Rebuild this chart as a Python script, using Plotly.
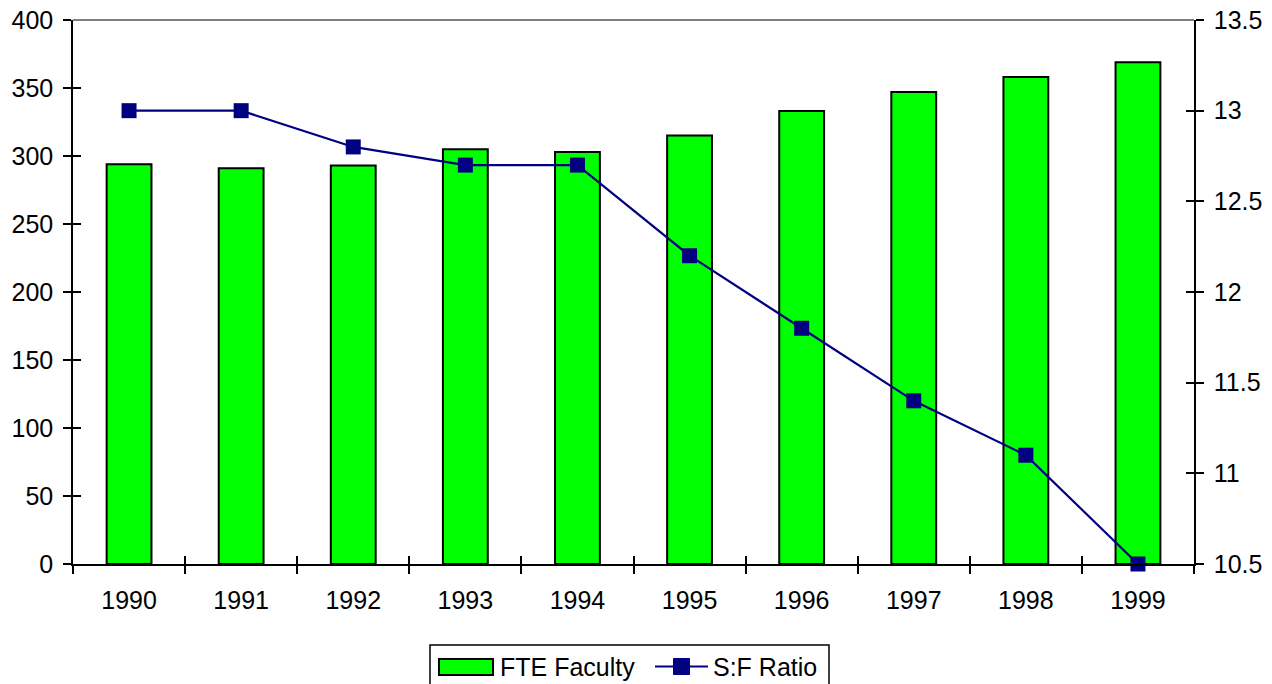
import plotly.graph_objects as go

years = ["1990", "1991", "1992", "1993", "1994", "1995", "1996", "1997", "1998", "1999"]
fte_faculty = [294, 291, 293, 305, 303, 315, 333, 347, 358, 369]
sf_ratio = [13.0, 13.0, 12.8, 12.7, 12.7, 12.2, 11.8, 11.4, 11.1, 10.5]
left_ticks = [0, 50, 100, 150, 200, 250, 300, 350, 400]
right_ticks = [10.5, 11, 11.5, 12, 12.5, 13, 13.5]
right_tick_text = ["10.5", "11", "11.5", "12", "12.5", "13", "13.5"]
series_names = ["FTE Faculty", "S:F Ratio"]

FONT = "Liberation Sans, Arial, sans-serif"
FS = 25
W, H = 1272, 684
L, R, T, B = 73, 78, 20, 120
PW = W - L - R
PH = H - T - B


def px(x):
    return (x - L) / PW


def py(y):
    return (H - B - y) / PH


BAR_COLOR = "#00FF00"
LINE_COLOR = "#000080"

fig = go.Figure()
fig.add_trace(go.Bar(
    x=years, y=fte_faculty, name=series_names[0],
    marker=dict(color=BAR_COLOR, line=dict(color="black", width=2)),
    width=0.4, xaxis="x", yaxis="y", showlegend=False,
))
fig.add_trace(go.Scatter(
    x=years, y=sf_ratio, name=series_names[1], mode="lines+markers",
    line=dict(color=LINE_COLOR, width=2.2),
    marker=dict(symbol="square", size=15, color=LINE_COLOR),
    xaxis="x", yaxis="y2", cliponaxis=False, showlegend=False,
))

axis_common = dict(showgrid=False, zeroline=False, linecolor="black", linewidth=1.5,
                   tickcolor="black", tickwidth=1.5, ticklen=8, automargin=False,
                   tickfont=dict(family=FONT, size=FS, color="black"))

fig.update_layout(
    template="none",
    width=W, height=H,
    margin=dict(l=L, r=R, t=T, b=B, pad=0),
    paper_bgcolor="white", plot_bgcolor="white",
    font=dict(family=FONT, size=FS, color="black"),
    showlegend=False,
    xaxis=dict(**axis_common, type="category", ticks="outside", tickson="boundaries",
               showline=True, range=[-0.5, 9.5], ticklabelstandoff=13),
    xaxis2=dict(**axis_common, type="category", ticks="inside", tickson="boundaries",
                showline=False, showticklabels=False, overlaying="x",
                range=[-0.5, 9.5], matches="x"),
    yaxis=dict(**axis_common, range=[0, 400], tickvals=left_ticks, ticks="outside",
               showline=True, ticklabelstandoff=5),
    yaxis3=dict(**axis_common, range=[0, 400], tickvals=left_ticks, ticks="inside",
                showline=False, showticklabels=False, overlaying="y"),
    yaxis2=dict(**axis_common, range=[10.5, 13.5], tickvals=right_ticks,
                ticktext=right_tick_text, ticks="outside", side="right",
                overlaying="y", showline=True, ticklabelstandoff=5),
    yaxis4=dict(**axis_common, range=[10.5, 13.5], tickvals=right_ticks,
                ticks="inside", side="right", overlaying="y",
                showline=False, showticklabels=False),
)

# invisible helper traces to activate overlay axes for cross ticks
fig.add_trace(go.Scatter(x=[years[0]], y=[None], xaxis="x2", yaxis="y3",
                         showlegend=False, hoverinfo="skip"))
fig.add_trace(go.Scatter(x=[years[0]], y=[None], xaxis="x2", yaxis="y4",
                         showlegend=False, hoverinfo="skip"))

shapes = [
    # top border of plot area
    dict(type="line", xref="paper", yref="paper", x0=0, x1=1, y0=1, y1=1,
         line=dict(color="#808080", width=2)),
    # legend box
    dict(type="rect", xref="paper", yref="paper", x0=px(430), x1=px(829),
         y0=py(645), y1=py(700), line=dict(color="black", width=1.5),
         fillcolor="white"),
    # bar swatch
    dict(type="rect", xref="paper", yref="paper", x0=px(439), x1=px(493),
         y0=py(659), y1=py(675), line=dict(color="black", width=2),
         fillcolor=BAR_COLOR),
    # line swatch
    dict(type="line", xref="paper", yref="paper", x0=px(655), x1=px(708),
         y0=py(666.5), y1=py(666.5), line=dict(color=LINE_COLOR, width=2.2)),
    dict(type="rect", xref="paper", yref="paper", x0=px(673.5), x1=px(689.5),
         y0=py(658.5), y1=py(674.5), line=dict(color=LINE_COLOR, width=1),
         fillcolor=LINE_COLOR),
]
annotations = [
    dict(text=series_names[0], xref="paper", yref="paper", x=px(498), y=py(667),
         xanchor="left", yanchor="middle", showarrow=False,
         font=dict(family=FONT, size=FS, color="black")),
    dict(text=series_names[1], xref="paper", yref="paper", x=px(711), y=py(667),
         xanchor="left", yanchor="middle", showarrow=False,
         font=dict(family=FONT, size=FS, color="black")),
]
fig.update_layout(shapes=shapes, annotations=annotations)

fig.write_html("out.html", config={"displayModeBar": False},
               post_script="document.body.style.margin='0';")
